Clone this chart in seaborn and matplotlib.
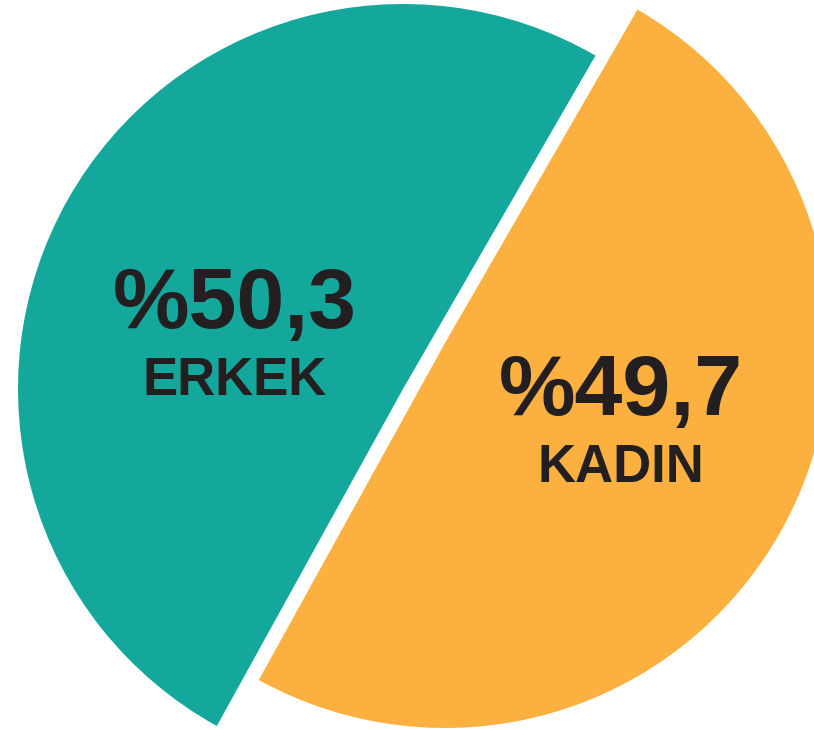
import seaborn as sns
import matplotlib.pyplot as plt

sns.set_theme(style="white")
plt.rcParams['font.family'] = ['Liberation Sans', 'DejaVu Sans']

groups = ['ERKEK', 'KADIN']
shares = [50.3, 49.7]
teal = '#14A89C'
orange = '#FBB040'
ink = '#231F20'

H = 730
fig = plt.figure(figsize=(8.14, 7.30), dpi=100)
ax = fig.add_axes([0, 0, 1, 1])

# teal slice stays put, orange slice is shifted up-right
ax.pie(shares, colors=[teal, 'none'], startangle=60, radius=385,
       center=(403, H - 389), wedgeprops=dict(linewidth=0))
ax.pie(shares, colors=['none', orange], startangle=60, radius=385,
       center=(445, H - 343), wedgeprops=dict(linewidth=0))

def pct(v):
    return '%' + f'{v:.1f}'.replace('.', ',')

# labels (x, baseline of number, baseline of name)
spots = [(235, 328, 395), (621, 415, 482)]
for g, v, (x, yb1, yb2) in zip(groups, shares, spots):
    ax.text(x, H - yb1, pct(v), ha='center', va='baseline',
            fontsize=62, fontweight='bold', color=ink)
    ax.text(x, H - yb2, g, ha='center', va='baseline',
            fontsize=38, fontweight='bold', color=ink)

ax.set_xlim(0, 814)
ax.set_ylim(0, H)
ax.set_aspect('equal')
ax.axis('off')

plt.savefig('out.png', dpi=100)
